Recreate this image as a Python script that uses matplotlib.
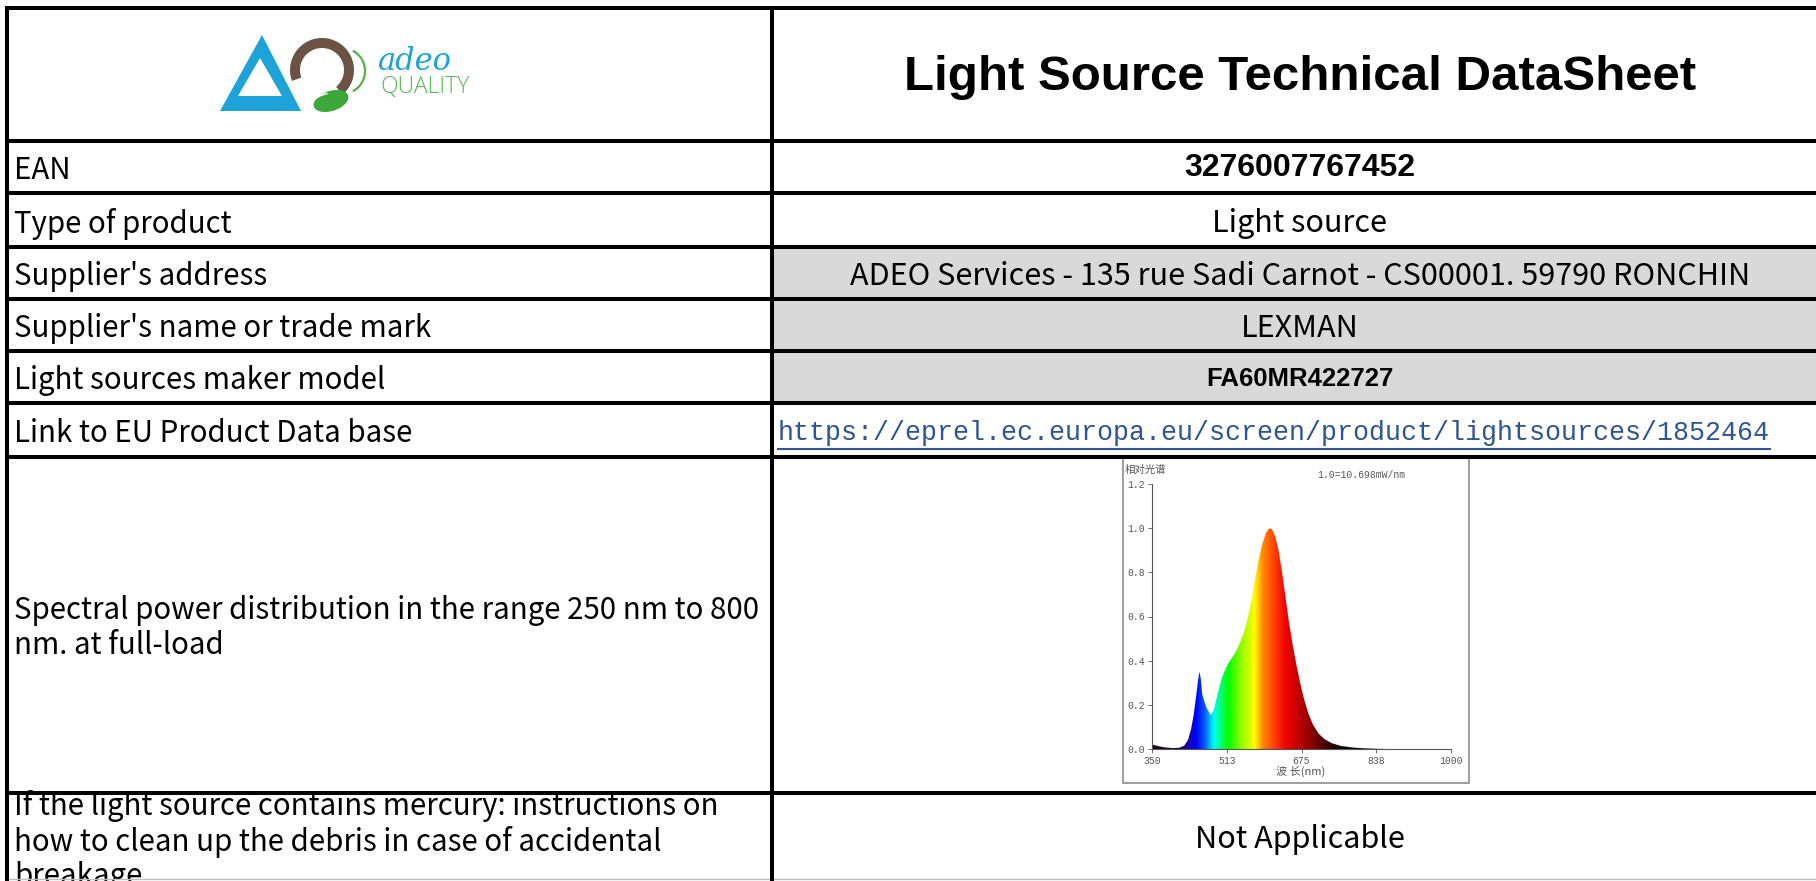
import numpy as np
import matplotlib.pyplot as plt
from matplotlib.patches import Rectangle, Polygon, Wedge, Ellipse, Arc
from matplotlib.colors import LinearSegmentedColormap

# ---- table content ----
title = "Light Source Technical DataSheet"
row_labels = [
    "EAN",
    "Type of product",
    "Supplier's address",
    "Supplier's name or trade mark",
    "Light sources maker model",
    "Link to EU Product Data base",
    "Spectral power distribution in the range 250 nm to 800\nnm. at full-load",
    "If the light source contains mercury: instructions on\nhow to clean up the debris in case of accidental\nbreakage",
]
row_values = [
    "3276007767452",
    "Light source",
    "ADEO Services - 135 rue Sadi Carnot - CS00001. 59790 RONCHIN",
    "LEXMAN",
    "FA60MR422727",
    "https://eprel.ec.europa.eu/screen/product/lightsources/1852464",
    None,
    "Not Applicable",
]
value_bold = [True, False, False, False, True, False, False, False]
value_shaded = [False, False, True, True, True, False, False, False]

# ---- spectrum (relative spectral power vs wavelength) ----
spec_wavelength = [350, 360, 375, 395, 410, 420, 428, 435, 441, 446, 450, 453, 456, 459,
                   463, 468, 473, 478, 483, 488, 494, 500, 507, 515, 523, 532, 541, 550,
                   558, 566, 574, 582, 590, 598, 605, 611, 618, 625, 632, 640, 648, 656,
                   664, 672, 680, 690, 700, 712, 725, 740, 760, 785, 810, 840, 860]
spec_relative = [0.02, 0.015, 0.008, 0.004, 0.006, 0.015, 0.04, 0.09, 0.16, 0.24, 0.31, 0.35,
                 0.32, 0.25, 0.22, 0.19, 0.17, 0.155, 0.17, 0.21, 0.26, 0.31, 0.35, 0.385,
                 0.41, 0.44, 0.48, 0.53, 0.59, 0.67, 0.77, 0.86, 0.93, 0.98, 1.0, 0.995, 0.96,
                 0.9, 0.81, 0.69, 0.57, 0.47, 0.38, 0.30, 0.23, 0.16, 0.11, 0.07, 0.045, 0.027,
                 0.014, 0.007, 0.003, 0.001, 0.0]
spec_xticks = [350, 513, 675, 838, 1000]
spec_yticks = [0.0, 0.2, 0.4, 0.6, 0.8, 1.0, 1.2]

# ---- layout (pixels) ----
W, H = 1816, 881
row_edges = [8, 141, 193, 247, 299, 351, 403, 457, 793, 879]
col_x = [7, 772, W]
line_pitch = 35
text_dy = 3.5
body_font = ["Noto Sans CJK SC", "DejaVu Sans"]
label_size = 21.2
value_size = 22

fig = plt.figure(figsize=(W / 100, H / 100), dpi=100)
ax = fig.add_axes([0, 0, 1, 1])
ax.set_xlim(0, W)
ax.set_ylim(H, 0)
ax.axis("off")

# shaded value cells
for i, shaded in enumerate(value_shaded):
    if shaded:
        top, bot = row_edges[i + 1], row_edges[i + 2]
        ax.add_patch(Rectangle((col_x[1], top), col_x[2] - col_x[1], bot - top,
                               facecolor="#d9d9d9", edgecolor="none", zorder=1))

# title
ax.text(1300, 78, title, ha="center", va="center", fontsize=35.5, fontweight="bold",
        family="Liberation Sans", zorder=3)

# logo
ax.add_patch(Polygon([(262, 35), (220, 111), (301, 111)], closed=True, facecolor="#1ea3d8",
                     edgecolor="none", zorder=3))
ax.add_patch(Polygon([(260, 58), (238, 96), (282, 96)], closed=True, facecolor="white",
                     edgecolor="none", zorder=3))
ax.add_patch(Wedge((322, 70), 32, -200, 50, width=10, facecolor="#6b5242", edgecolor="none", zorder=4))
ax.add_patch(Ellipse((331, 101), 36, 20, angle=-18, facecolor="#3da83a", edgecolor="none", zorder=5))
ax.add_patch(Arc((326, 101), 30, 14, angle=-18, theta1=190, theta2=300, color="white", lw=1.2, zorder=6))
ax.add_patch(Arc((342, 71), 46, 46, theta1=-62, theta2=62, color="#4db848", lw=1.6, zorder=3))
ax.text(378, 70, "adeo", ha="left", va="baseline", fontsize=22, style="italic",
        family="DejaVu Serif", color="#1ea3d8", zorder=3)
ax.text(380, 93, "QUALITY", ha="left", va="baseline", fontsize=16.5, family="Open Sans",
        fontweight="light", color="#5cb85c", zorder=3)

# rows
for i, (lab, val) in enumerate(zip(row_labels, row_values)):
    top, bot = row_edges[i + 1], row_edges[i + 2]
    yc = (top + bot) / 2 + text_dy
    lines = lab.split("\n")
    clip = Rectangle((col_x[0], top + 2), col_x[1] - col_x[0], bot - top - 2, transform=ax.transData)
    shift = 2 if len(lines) == 3 else 0
    for k, ln in enumerate(lines):
        y = yc + shift + (k - (len(lines) - 1) / 2) * line_pitch
        t = ax.text(14, y, ln, ha="left", va="center", fontsize=label_size, family=body_font, zorder=3)
        t.set_clip_path(clip)
    if val is None:
        continue
    if val.startswith("http"):
        link = ax.text(778, yc - 1, val, ha="left", va="center", fontsize=19.2,
                       family="Liberation Mono", color="#2e5597", zorder=3)
        fig.canvas.draw()
        bb = link.get_window_extent().transformed(ax.transData.inverted())
        ax.plot([bb.x0, bb.x1], [yc + 15, yc + 15], color="#2e5597", lw=1.5, zorder=3)
    elif i == 0:
        ax.text(1300, yc - 2, val, ha="center", va="center", fontsize=23, fontweight="bold",
                family="Liberation Sans", zorder=3)
    elif value_bold[i]:
        ax.text(1300, yc - 1, val, ha="center", va="center", fontsize=18.5, fontweight="bold",
                family="Liberation Sans", zorder=3)
    else:
        ax.text(1300, yc, val, ha="center", va="center", fontsize=value_size, family=body_font, zorder=3)

# grid lines
ax.plot([col_x[0], W], [H - 2, H - 2], color="#bfbfbf", lw=1, zorder=7)
for y in row_edges[:-1]:
    ax.plot([col_x[0] - 2, W], [y, y], color="black", lw=2.9, solid_capstyle="butt", zorder=8)
for x in col_x[:2]:
    ax.plot([x, x], [row_edges[0] - 2, H], color="black", lw=2.9, solid_capstyle="butt", zorder=8)

# spectrum picture frame + captions
ax.add_patch(Rectangle((1123, 458), 346, 325, facecolor="white", edgecolor="#8c8c8c", lw=1.2, zorder=2))
ax.text(1125, 470, "相对光谱", ha="left", va="center", fontsize=7.5, family=body_font, color="#555555", zorder=3)
ax.text(1317, 475, "1.0=10.698mW/nm", ha="left", va="center", fontsize=7, family="Liberation Mono",
        color="#555555", zorder=3)
ax.text(1301, 771, "波 长(nm)", ha="center", va="center", fontsize=8, family=body_font, color="#555555", zorder=3)

ax_in = fig.add_axes([1152 / W, 1 - 749 / H, 299 / W, 265 / H])
ax_in.set_facecolor("none")
ax_in.set_xlim(350, 1000)
ax_in.set_ylim(0, 1.2)
for s in ["top", "right"]:
    ax_in.spines[s].set_visible(False)
for s in ["left", "bottom"]:
    ax_in.spines[s].set_color("#555555")
    ax_in.spines[s].set_linewidth(0.8)
ax_in.set_xticks(spec_xticks)
ax_in.set_xticklabels([str(v) for v in spec_xticks])
ax_in.set_yticks(spec_yticks)
ax_in.set_yticklabels([f"{v:.1f}" for v in spec_yticks])
ax_in.tick_params(labelsize=7, colors="#555555", length=3, width=0.6, pad=2)
for lbl in ax_in.get_xticklabels() + ax_in.get_yticklabels():
    lbl.set_family("Liberation Mono")

spec_cmap = LinearSegmentedColormap.from_list("spec", [
    (0.000, (0.08, 0.04, 0.08)), (0.077, (0.05, 0.0, 0.2)), (0.115, (0.1, 0.0, 0.6)),
    (0.146, (0.0, 0.0, 1.0)), (0.177, (0.0, 0.4, 1.0)), (0.205, (0.0, 1.0, 1.0)),
    (0.231, (0.0, 1.0, 0.4)), (0.254, (0.0, 1.0, 0.0)), (0.300, (0.6, 1.0, 0.0)),
    (0.342, (1.0, 1.0, 0.0)), (0.369, (1.0, 0.55, 0.0)), (0.408, (1.0, 0.25, 0.0)),
    (0.446, (0.95, 0.0, 0.0)), (0.523, (0.6, 0.0, 0.0)), (0.585, (0.25, 0.0, 0.0)),
    (0.631, (0.05, 0.0, 0.0)), (1.000, (0.0, 0.0, 0.0))])
grad = spec_cmap(np.linspace(0, 1, 651))[None, :, :3]
im = ax_in.imshow(grad, extent=[350, 1000, 0, 1.2], aspect="auto", origin="lower", interpolation="bilinear")
poly = ax_in.fill_between(spec_wavelength, 0, spec_relative, facecolor="none", edgecolor="none")
im.set_clip_path(poly.get_paths()[0], transform=ax_in.transData)

fig.savefig("out.png", dpi=100)
